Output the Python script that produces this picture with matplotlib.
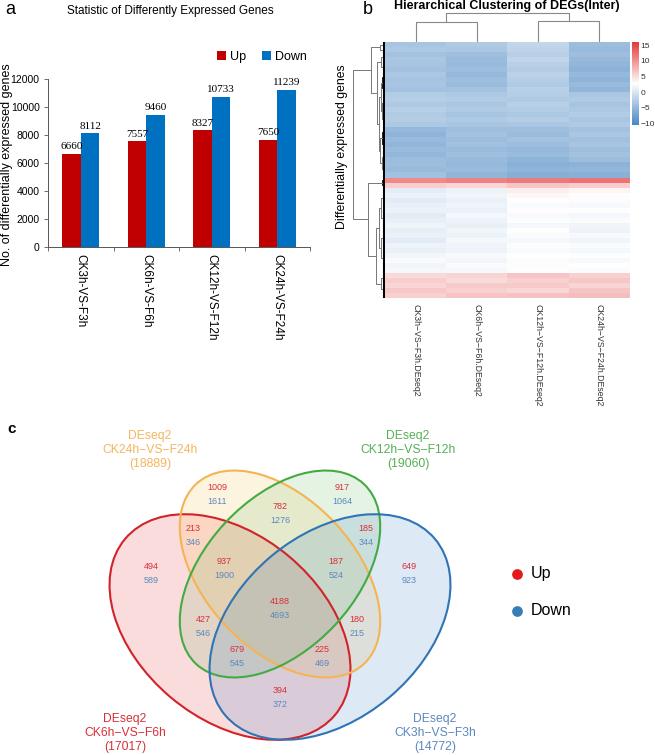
import numpy as np
import matplotlib
matplotlib.use('Agg')
import matplotlib.pyplot as plt
from matplotlib.patches import Ellipse
from matplotlib.colors import LinearSegmentedColormap

plt.rcParams['font.family'] = ['Liberation Sans', 'DejaVu Sans']

# ---------------- data ----------------
# panel a
groups = ['CK3h-VS-F3h', 'CK6h-VS-F6h', 'CK12h-VS-F12h', 'CK24h-VS-F24h']
up = [6660, 7557, 8327, 7650]
down = [8112, 9460, 10733, 11239]

# panel b (log2FC, rows read top to bottom)
hm_cols = ['CK3h−VS−F3h.DEseq2', 'CK6h−VS−F6h.DEseq2',
           'CK12h−VS−F12h.DEseq2', 'CK24h−VS−F24h.DEseq2']
ck3h = [-3.6, -3.2, -3.8, -3.4,
        -3.6, -4.0, -3.3, -3.7, -3.5, -3.9,
        -2.8, -2.6, -3.1, -2.4, -2.9, -2.7, -3.2,
        -5.0, -5.4, -4.8, -5.2, -4.6, -5.1, -4.4,
        -4.2, -4.8, -4.0,
        10.5, 6.0,
        0.8, 1.2, 0.6, 1.0, 1.4, 0.7, 1.1, 1.6, 0.9, 1.3, 0.6, 1.5, 1.0, 1.9, 2.3, 1.8, 2.1,
        5.2, 6.0, 5.5, 6.4, 5.8]
ck6h = [-3.0, -3.4, -4.2, -4.6,
        -4.8, -4.4, -5.0, -4.2, -4.6, -3.8,
        -3.2, -2.8, -3.4, -3.0, -3.6, -3.1, -3.5,
        -4.2, -3.8, -4.4, -4.0, -4.6, -4.1, -4.8,
        -5.0, -4.6, -5.2,
        11.0, 5.5,
        1.4, 1.8, 1.2, 1.6, 1.3, 2.0, 1.5, 1.1, 1.7, 1.4, 2.1, 1.6, 1.5, 2.2, 1.9, 2.4, 2.1,
        5.6, 5.2, 6.2, 5.8, 6.6]
ck12h = [-1.6, -2.0, -2.4, -1.8,
         -2.4, -2.8, -2.2, -2.6, -3.0, -2.4,
         -2.6, -3.0, -2.4, -2.8, -3.2, -2.6, -3.4,
         -4.2, -4.6, -3.8, -4.4, -5.0, -4.6, -5.4,
         -5.8, -5.4, -6.0,
         11.5, 6.5,
         3.8, 3.2, 2.7, 2.4, 2.9, 2.2, 2.6, 2.0, 2.7, 2.4, 2.1, 2.6, 2.3, 2.8, 2.5, 3.0, 2.6,
         6.6, 5.8, 6.2, 5.4, 6.8]
ck24h = [-4.4, -4.8, -4.2, -5.0,
         -5.2, -5.6, -5.0, -5.4, -4.8, -5.2,
         -3.4, -3.0, -3.6, -3.2, -2.8, -3.4, -3.0,
         -3.8, -3.4, -4.0, -3.6, -4.2, -3.8, -4.4,
         -5.6, -5.2, -5.8,
         12.0, 6.0,
         3.4, 2.9, 2.5, 2.2, 2.7, 2.0, 2.4, 1.8, 1.5, 2.2, 1.7, 2.4, 2.0, 2.6, 2.2, 2.8, 2.4,
         5.8, 6.4, 5.6, 6.6, 7.0]
# column clustering: merge heights (c1+c2), (c3+c4), root
col_merge = [20, 21, 29]

# panel c
set_names = ['CK6h−VS−F6h', 'CK24h−VS−F24h', 'CK12h−VS−F12h', 'CK3h−VS−F3h']
set_totals = [17017, 18889, 19060, 14772]
venn_up = [1009, 782, 917, 213, 185, 494, 937, 4188, 187, 649, 427, 180, 679, 225, 394]
venn_down = [1611, 1276, 1064, 346, 344, 589, 1900, 4693, 524, 923, 546, 215, 545, 469, 372]


fig = plt.figure(figsize=(6.55, 7.55), dpi=100)
W, H = 655.0, 755.0


def fr(x0, y0, x1, y1):
    # pixel box -> figure fraction rect
    return [x0 / W, 1 - y1 / H, (x1 - x0) / W, (y1 - y0) / H]


# ================= a =================
ax = fig.add_axes(fr(48, 79, 310, 247))
x = np.arange(len(groups))
bw = 0.285
ax.bar(x - bw / 2, up, bw, color='#C00000', label='Up')
ax.bar(x + bw / 2, down, bw, color='#0070C0', label='Down')
for xi, u, d in zip(x, up, down):
    ax.text(xi - bw / 2, u + 180, str(u), ha='center', va='bottom', fontsize=8, family='Liberation Serif')
    ax.text(xi + bw / 2, d + 180, str(d), ha='center', va='bottom', fontsize=8, family='Liberation Serif')
ax.set_xlim(-0.5, 3.5)
ax.set_ylim(0, 12000)
ax.set_yticks(range(0, 12001, 2000))
ax.tick_params(axis='y', labelsize=7.5, length=3, width=0.6, color='#555555', pad=3)
ax.set_xticks(np.arange(-0.5, 4, 1))
ax.set_xticklabels([])
ax.tick_params(axis='x', which='major', length=3, width=0.6, color='#555555')
ax.set_xticks(x, minor=True)
ax.set_xticklabels(groups, minor=True, rotation=-90, fontsize=8.5, va='top')
ax.tick_params(axis='x', which='minor', length=0, pad=5)
for s in ['top', 'right']:
    ax.spines[s].set_visible(False)
for s in ['left', 'bottom']:
    ax.spines[s].set_color('#555555')
    ax.spines[s].set_linewidth(0.7)
fig.text(7 / W, 1 - 165 / H, 'No. of differentially expressed genes', rotation=90,
         ha='center', va='center', fontsize=9)
ax.legend(loc='center', bbox_to_anchor=(262 / W, 1 - 57 / H), bbox_transform=fig.transFigure,
          ncol=2, frameon=False, fontsize=9, handlelength=0.7, handleheight=0.7,
          handletextpad=0.3, columnspacing=1.3)
fig.text(170 / W, 1 - 11 / H, 'Statistic of Differently Expressed Genes', ha='center', va='center', fontsize=8.5)
fig.text(10 / W, 1 - 10 / H, 'a', ha='center', va='center', fontsize=13)

# ================= b =================
data = np.array([ck3h, ck6h, ck12h, ck24h]).T
nrow = data.shape[0]
cmap = LinearSegmentedColormap.from_list('bwr2', ['#4A86C2', '#FFFFFF', '#E33838'])
axh = fig.add_axes(fr(385, 42, 630, 298))
im = axh.imshow(data, aspect='auto', cmap=cmap, vmin=-10.5, vmax=16, interpolation='nearest')
axh.set_xticks(range(4))
axh.set_xticklabels(hm_cols, rotation=-90, fontsize=6.3, va='top', color='#333333')
axh.set_yticks([])
axh.tick_params(axis='x', length=0, pad=4)
for s in axh.spines.values():
    s.set_visible(False)

cax = fig.add_axes(fr(632, 42, 639, 125))
cb = fig.colorbar(im, cax=cax, ticks=[-10, -5, 0, 5, 10, 15])
cb.outline.set_visible(False)
cax.tick_params(labelsize=6, length=0, pad=1.2, labelcolor='#333333')

# column dendrogram
axd = fig.add_axes(fr(385, 10, 630, 42))
dc = '#888888'
h12, h34, hr = col_merge
axd.plot([0, 0, 1, 1], [0, h12, h12, 0], color=dc, lw=0.8)
axd.plot([2, 2, 3, 3], [0, h34, h34, 0], color=dc, lw=0.8)
axd.plot([0.5, 0.5, 2.5, 2.5], [h12, hr, hr, h34], color=dc, lw=0.8)
axd.set_xlim(-0.5, 3.5)
axd.set_ylim(0, 32)
axd.axis('off')


# row dendrogram
def bal(rows, h):
    rows = list(rows)
    if len(rows) == 1:
        return rows[0]
    m = len(rows) // 2
    return [h, bal(rows[:m], h * 0.6), bal(rows[m:], h * 0.6)]


row_tree = [32,
            [14, bal([0, 1], 5),
             [8, bal([2, 3, 4, 5], 4),
              [6, [4.5, bal(range(6, 11), 3), bal(range(11, 17), 3.5)],
               [5, bal(range(17, 22), 3), bal(range(22, 27), 3.5)]]]],
            [17, bal([27, 28], 3),
             [9, bal(range(29, 46), 6), bal(range(46, 51), 4)]]]

axr = fig.add_axes(fr(350, 42, 385, 298))


def draw(node):
    if not isinstance(node, list):
        return node, 0.0
    h, l, r = node
    pl, hl = draw(l)
    pr, hr_ = draw(r)
    col = '#777777' if h > 3 else '#222222'
    axr.plot([hl, h, h, hr_], [pl, pl, pr, pr], color=col, lw=0.7)
    return (pl + pr) / 2, h


draw(row_tree)
axr.plot([1.2, 1.2], [-0.5, nrow - 0.5], color='black', lw=2.2)
axr.set_xlim(35, 0)
axr.set_ylim(nrow - 0.5, -0.5)
axr.axis('off')

fig.text(342 / W, 1 - 147 / H, 'Differentially expressed genes', rotation=90, ha='center', va='center', fontsize=8.8)
fig.text(507 / W, 1 - 6 / H, 'Hierarchical Clustering of DEGs(Inter)', ha='center', va='center',
         fontsize=9, fontweight='bold')
fig.text(368 / W, 1 - 9 / H, 'b', ha='center', va='center', fontsize=13)

# ================= c =================
axc = fig.add_axes([0, 0, 1, 355 / H])
axc.set_xlim(0, W)
axc.set_ylim(H, 400)
axc.axis('off')

# ellipse layout: center, width, height, angle (pixel space, y down)
ell = [((230, 627), 274, 184, 40),
       ((280, 574), 246, 150, 47),
       ((280, 574), 246, 150, -47),
       ((330, 627), 274, 184, -40)]
edge_cols = ['#D2232A', '#F5B453', '#44AA44', '#2F74B5']
fill_cols = ['#E8303A', '#F5BC40', '#4CB04C', '#3A7DC0']
fill_alpha = [0.17, 0.16, 0.14, 0.17]
for (c, w, h, a), fc, fa in zip(ell, fill_cols, fill_alpha):
    axc.add_patch(Ellipse(c, w, h, angle=a, facecolor=fc, alpha=fa, edgecolor='none'))
for (c, w, h, a), ec in zip(ell, edge_cols):
    axc.add_patch(Ellipse(c, w, h, angle=a, facecolor='none', edgecolor=ec, lw=1.5))

lab_pos = [(217, 488), (280, 507), (342, 488), (193, 529), (366, 529), (151, 567), (224, 562),
           (280, 602), (336, 562), (409, 567), (203, 620), (357, 620), (237, 650), (322, 650), (280, 691)]
for (px, py), u, d in zip(lab_pos, venn_up, venn_down):
    axc.text(px, py, str(u), color='#D8303A', fontsize=6.5, ha='center', va='center')
    axc.text(px, py + 14, str(d), color='#5A88C0', fontsize=6.5, ha='center', va='center')

title_pos = [(125, 733), (150, 450), (408, 450), (435, 733)]
title_cols = ['#D8303A', '#F3B65E', '#55B055', '#5A88C0']
for (px, py), nm, tot, tc in zip(title_pos, set_names, set_totals, title_cols):
    axc.text(px, py, 'DEseq2\n%s\n(%d)' % (nm, tot), color=tc, fontsize=8.7, ha='center',
             va='center', linespacing=1.25)

axc.scatter([517], [574], s=45, color='#E41A1C')
axc.scatter([517], [611], s=45, color='#377EB8')
axc.text(531, 574, 'Up', fontsize=11.5, va='center', ha='left')
axc.text(531, 611, 'Down', fontsize=11.5, va='center', ha='left')
fig.text(12 / W, 1 - 429 / H, 'c', ha='center', va='center', fontsize=11, fontweight='bold')

fig.savefig('out.png', dpi=100)
